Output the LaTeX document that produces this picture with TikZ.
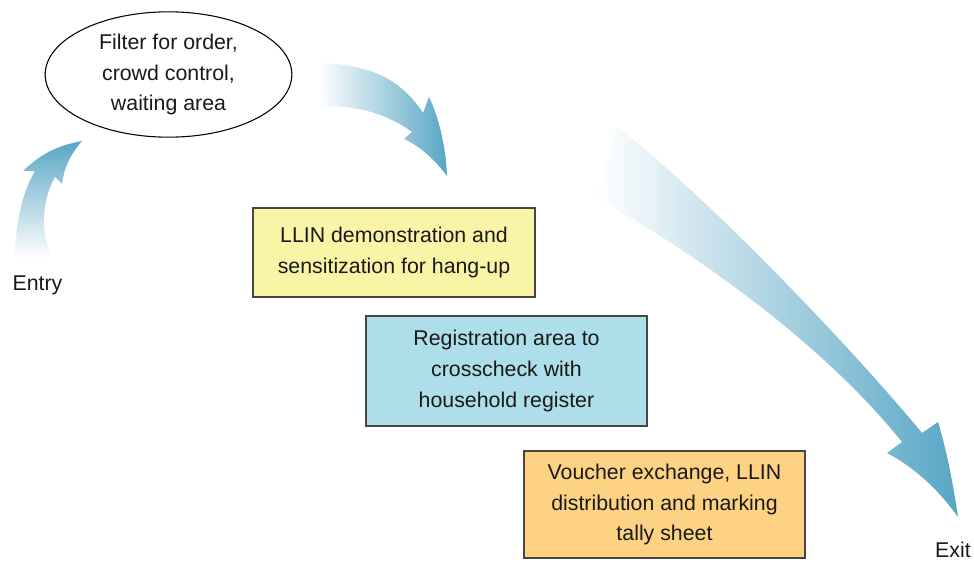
\documentclass[tikz,border=0pt]{standalone}
\usepackage{fontspec}
\setmainfont{Liberation Sans}
\usetikzlibrary{shapes.geometric,positioning}
\definecolor{FlowBlue}{RGB}{88,166,197}
\definecolor{DemoYellow}{RGB}{249,244,166}
\definecolor{RegBlue}{RGB}{173,222,234}
\definecolor{VoucherOrange}{RGB}{253,210,130}
\definecolor{EdgeGrey}{RGB}{70,70,70}

\begin{document}
\begin{tikzpicture}[x=0.75pt,y=-0.75pt,
    every node/.style={font=\fontsize{16}{23}\selectfont,text=black!90},
    station/.style={draw=EdgeGrey,line width=1pt,align=center,inner sep=0pt}]
  \useasboundingbox (0,0) rectangle (974,563);
  % flow arrows
  \shade[bottom color=white,top color=FlowBlue]
    (15,258) .. controls (16,215) and (24,190) .. (35,171)
    -- (23,171) .. controls (45,150) and (62,145) .. (82,141)
    .. controls (70,155) and (64,168) .. (62,184) -- (55,177)
    .. controls (42,200) and (40,230) .. (52,258) -- cycle;
  \shade[left color=white,right color=FlowBlue]
    (325,63) .. controls (370,66) and (400,78) .. (423,113)
    -- (429,97) .. controls (440,120) and (446,150) .. (447,176)
    .. controls (435,160) and (420,146) .. (404,139) -- (412,132)
    .. controls (385,112) and (350,104) .. (318,107) -- cycle;
  \shade[left color=white,right color=FlowBlue]
    (617,127) .. controls (700,190) and (845,340) .. (922,433)
    -- (938,422) .. controls (948,455) and (954,490) .. (958,517)
    .. controls (935,485) and (910,465) .. (887,453) -- (902,442)
    .. controls (820,340) and (690,250) .. (595,197) -- cycle;
  % stations
  \node[ellipse,draw,line width=0.8pt,inner sep=0pt,align=center,
        minimum width=185pt,minimum height=94pt] (filter) at (168.5,74.5)
    {Filter for order,\\crowd control,\\waiting area};
  \node[station,fill=DemoYellow,minimum width=211.5pt,minimum height=66.75pt]
    (demo) at (394,252.5) {LLIN demonstration and\\sensitization for hang-up};
  \node[station,fill=RegBlue,minimum width=210.75pt,minimum height=82.5pt]
    (regist) at (506.5,371) {Registration area to\\crosscheck with\\household register};
  \node[station,fill=VoucherOrange,minimum width=210.75pt,minimum height=80.25pt]
    (voucher) at (664.5,504.5) {Voucher exchange, LLIN\\distribution and marking\\tally sheet};
  \node[anchor=base] (entry) at (37.5,290) {Entry};
  \node[anchor=base,inner sep=1pt] (exit) at (953,557) {Exit};
\end{tikzpicture}
\end{document}
